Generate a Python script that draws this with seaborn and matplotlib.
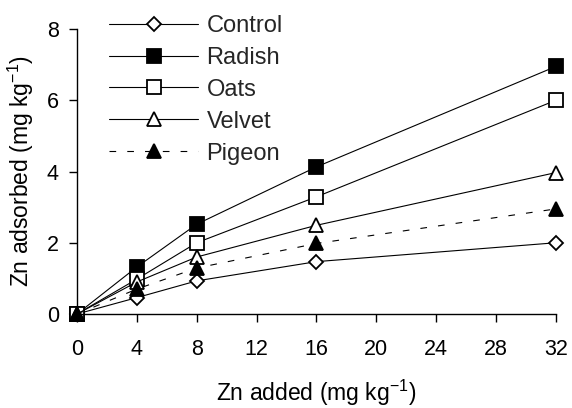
import matplotlib
matplotlib.use('Agg')
import matplotlib.pyplot as plt
import pandas as pd
import seaborn as sns

zn_added = [0, 4, 8, 16, 32]
control = [0, 0.46, 0.93, 1.47, 2.0]
radish = [0, 1.32, 2.52, 4.13, 6.95]
oats = [0, 0.98, 2.0, 3.29, 6.0]
velvet = [0, 0.9, 1.6, 2.49, 3.97]
pigeon = [0, 0.7, 1.29, 1.98, 2.95]

series = {'Control': control, 'Radish': radish, 'Oats': oats,
          'Velvet': velvet, 'Pigeon': pigeon}
styles = {
    'Control': dict(marker='D', markersize=7.5, markerfacecolor='white', linestyle='-'),
    'Radish': dict(marker='s', markersize=10, markerfacecolor='black', linestyle='-'),
    'Oats': dict(marker='s', markersize=10, markerfacecolor='white', linestyle='-'),
    'Velvet': dict(marker='^', markersize=10, markerfacecolor='white', linestyle='-'),
    'Pigeon': dict(marker='^', markersize=10, markerfacecolor='black', linestyle=(0, (6, 10))),
}

sns.set_theme(style='white')
plt.rcParams['font.family'] = ['Liberation Sans', 'DejaVu Sans']
plt.rcParams['mathtext.fontset'] = 'custom'
plt.rcParams['mathtext.rm'] = 'Liberation Sans'
plt.rcParams['mathtext.it'] = 'Liberation Sans'

fig = plt.figure(figsize=(5.72, 4.08), dpi=100)
ax = fig.add_axes([0.1346, 0.2304, 0.8374, 0.6985])

for name, values in series.items():
    df = pd.DataFrame({'x': zn_added, 'y': values})
    sns.lineplot(data=df, x='x', y='y', ax=ax, color='black', linewidth=0.8,
                 markeredgecolor='black', markeredgewidth=1.3, clip_on=False,
                 label=name, **styles[name])

ax.set_xlim(0, 32)
ax.set_ylim(0, 8)
ax.set_xticks(range(0, 33, 4))
ax.set_yticks([0, 2, 4, 6, 8])
sns.despine(ax=ax)
for side in ['left', 'bottom']:
    ax.spines[side].set_color('black')
    ax.spines[side].set_linewidth(1.0)
ax.tick_params(axis='both', direction='out', length=6, width=1.0, color='black',
               labelsize=15.5, labelcolor='black', bottom=True, left=True)
ax.tick_params(axis='x', pad=12)
ax.tick_params(axis='y', pad=7)
ax.set_xlabel('Zn added (mg kg$^{-1}$)', fontsize=16.5, color='black', labelpad=13)
ax.set_ylabel('Zn adsorbed (mg kg$^{-1}$)', fontsize=16.5, color='black', labelpad=8)

ax.legend(loc='upper left', bbox_to_anchor=(0.183, 0.975), bbox_transform=fig.transFigure,
          frameon=False, fontsize=17, handlelength=3.77, handletextpad=0.34,
          labelspacing=0.42, borderaxespad=0.0, borderpad=0.2)

fig.savefig('out.png', dpi=100)
